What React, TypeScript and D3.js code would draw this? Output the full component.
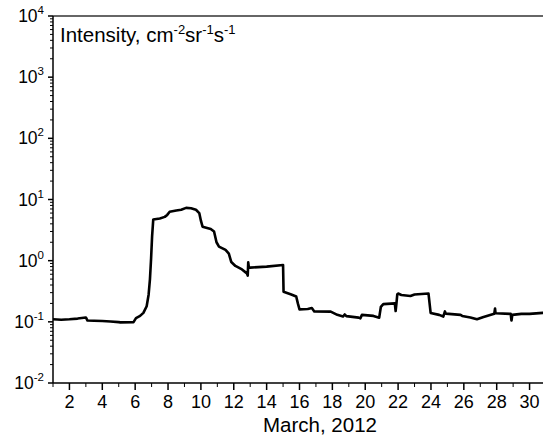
import { useMemo } from "react";
import * as d3 from "d3";

const WIDTH = 543;
const HEIGHT = 438;
const MARGIN = { top: 16, right: -3, bottom: 55, left: 53 };
const FONT = "Arial, 'Liberation Sans', sans-serif";

// day of March 2012 (fractional) and intensity, cm^-2 sr^-1 s^-1
const days = [
  1.0, 1.5, 2.0, 2.5, 3.0, 3.1, 3.5, 4.0, 4.5, 5.0, 5.1, 5.9, 6.05, 6.3, 6.5,
  6.7, 6.82, 6.9, 6.97, 7.03, 7.1, 7.5, 7.8, 7.95, 8.1, 8.5, 8.8, 9.1, 9.4,
  9.7, 9.9, 10.0, 10.1, 10.6, 10.8, 10.95, 11.1, 11.5, 11.7, 11.85, 12.1, 12.5,
  12.8, 12.85, 12.88, 12.92, 13.0, 14.0, 15.0, 15.03, 15.5, 15.8, 15.9, 16.0,
  16.5, 16.75, 16.9, 17.9, 18.3, 18.65, 18.75, 18.85, 19.6, 19.7, 19.8, 20.5,
  20.85, 20.95, 21.1, 21.8, 21.85, 21.9, 21.95, 22.0, 22.2, 22.75, 23.0, 23.85,
  23.98, 24.5, 24.75, 24.85, 24.9, 25.8, 25.9, 26.4, 26.8, 27.2, 27.85, 27.9,
  27.93, 28.85, 28.9, 28.95, 29.5, 30.0, 30.8, 31.0,
];
const intensity = [
  0.11, 0.108, 0.11, 0.113, 0.118, 0.105, 0.104, 0.103, 0.101, 0.099, 0.098,
  0.099, 0.115, 0.125, 0.14, 0.18, 0.28, 0.5, 1.1, 2.5, 4.7, 4.9, 5.2, 5.6,
  6.3, 6.6, 6.8, 7.3, 7.2, 6.8, 6.0, 4.5, 3.6, 3.3, 3.0, 2.0, 1.7, 1.5, 1.3,
  0.95, 0.82, 0.72, 0.62, 0.57, 0.94, 0.77, 0.77, 0.8, 0.85, 0.31, 0.28, 0.26,
  0.2, 0.16, 0.162, 0.168, 0.148, 0.147, 0.13, 0.122, 0.132, 0.124, 0.117,
  0.114, 0.13, 0.125, 0.117, 0.175, 0.195, 0.2, 0.15, 0.2, 0.28, 0.29, 0.275,
  0.265, 0.28, 0.29, 0.14, 0.13, 0.122, 0.148, 0.136, 0.13, 0.125, 0.118,
  0.11, 0.12, 0.135, 0.165, 0.138, 0.135, 0.105, 0.13, 0.135, 0.135, 0.14,
  0.14,
];

const xTicks = d3.range(2, 31, 2);
const xMinorTicks = d3.range(1, 32, 2);
const yExponents = [-2, -1, 0, 1, 2, 3, 4];

export default function App() {
  const boundsWidth = WIDTH - MARGIN.left - MARGIN.right;
  const boundsHeight = HEIGHT - MARGIN.top - MARGIN.bottom;

  const xScale = useMemo(
    () => d3.scaleLinear().domain([1, 31]).range([0, boundsWidth]),
    [boundsWidth]
  );
  const yScale = useMemo(
    () => d3.scaleLog().domain([1e-2, 1e4]).range([boundsHeight, 0]),
    [boundsHeight]
  );

  const linePath = useMemo(() => {
    const pts: [number, number][] = days.map((d, i) => [d, intensity[i]]);
    return d3
      .line<[number, number]>()
      .x((p) => xScale(p[0]))
      .y((p) => yScale(p[1]))(pts);
  }, [xScale, yScale]);

  // minor log ticks 2..9 for each decade
  const yMinor: number[] = [];
  yExponents.slice(0, -1).forEach((e) => {
    for (let m = 2; m <= 9; m++) yMinor.push(m * Math.pow(10, e));
  });

  return (
    <svg
      width={WIDTH}
      height={HEIGHT}
      style={{ position: "fixed", left: 0, top: 0, background: "#fff" }}
      fontFamily={FONT}
    >
      <g transform={`translate(${MARGIN.left},${MARGIN.top})`}>
        {/* top frame */}
        <line x1={0} x2={boundsWidth} y1={0} y2={0} stroke="#666" strokeWidth={2} />

        <path d={linePath ?? ""} fill="none" stroke="#000" strokeWidth={2.6} strokeLinejoin="round" />

        {/* y axis */}
        <line x1={0} x2={0} y1={0} y2={boundsHeight} stroke="#000" strokeWidth={1.5} />
        {yMinor.map((v, i) => (
          <line key={"ym" + i} x1={-3} x2={0} y1={yScale(v)} y2={yScale(v)} stroke="#000" strokeWidth={1} />
        ))}
        {yExponents.map((e) => (
          <g key={"y" + e} transform={`translate(0,${yScale(Math.pow(10, e))})`}>
            <line x1={-5} x2={0} stroke="#000" strokeWidth={1.5} />
            <text x={-9} y={6} textAnchor="end" fontSize={17.5} fill="#000">
              10
              <tspan dy={-8} fontSize={11.5}>
                {e}
              </tspan>
            </text>
          </g>
        ))}

        {/* x axis */}
        <line x1={0} x2={boundsWidth} y1={boundsHeight} y2={boundsHeight} stroke="#000" strokeWidth={1.5} />
        {xMinorTicks.map((d) => (
          <line key={"xm" + d} x1={xScale(d)} x2={xScale(d)} y1={boundsHeight} y2={boundsHeight + 4} stroke="#000" strokeWidth={1} />
        ))}
        {xTicks.map((d) => (
          <g key={"x" + d} transform={`translate(${xScale(d)},${boundsHeight})`}>
            <line y1={0} y2={7} stroke="#000" strokeWidth={1.5} />
            <text y={25} textAnchor="middle" fontSize={18} fill="#000">
              {d}
            </text>
          </g>
        ))}
      </g>

      <text x={320} y={432} textAnchor="middle" fontSize={20.5} fill="#000">
        March, 2012
      </text>

      <text x={60} y={42} fontSize={20.5} fill="#000">
        Intensity, cm
        <tspan dy={-8} fontSize={13}>-2</tspan>
        <tspan dy={8}>sr</tspan>
        <tspan dy={-8} fontSize={13}>-1</tspan>
        <tspan dy={8}>s</tspan>
        <tspan dy={-8} fontSize={13}>-1</tspan>
      </text>
    </svg>
  );
}
